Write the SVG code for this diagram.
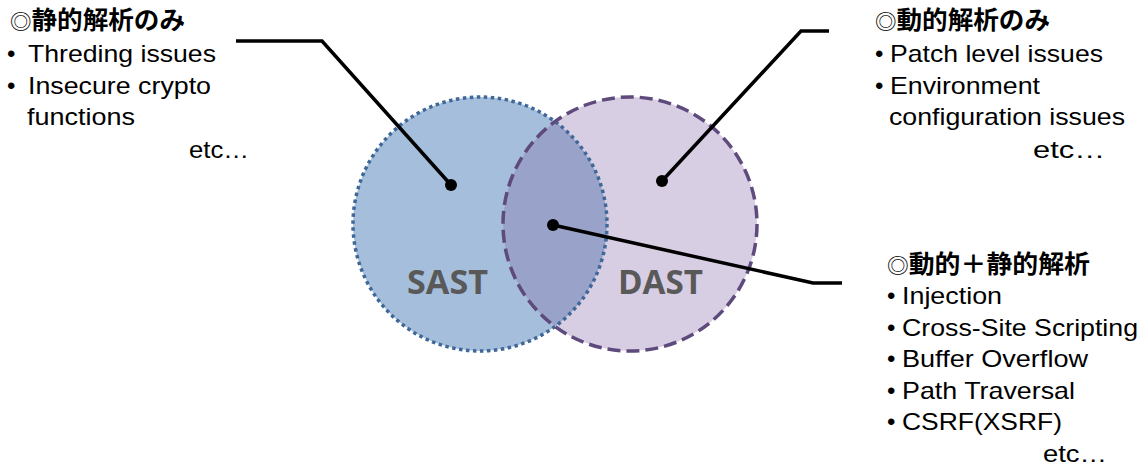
<svg xmlns="http://www.w3.org/2000/svg" width="1144" height="468" viewBox="0 0 1144 468">
<style>
.h{font-family:"Noto Sans CJK JP","Noto Sans CJK SC",sans-serif;font-weight:bold;font-size:25px;fill:#000}
.h .m{font-weight:normal;font-size:21px}
.t{font-family:"Liberation Sans",Arial,sans-serif;font-size:24px;fill:#000}
.lbl{font-family:"Open Sans","Noto Sans",sans-serif;font-weight:bold;font-size:34px;fill:#595959}
.con{fill:none;stroke:#000;stroke-width:3.5;stroke-linejoin:miter}
.dot{fill:#000}
</style>
<defs>
<clipPath id="clipSast"><circle cx="480" cy="224" r="127"/></clipPath>
</defs>
<g id="sast">
<circle cx="480" cy="224" r="127" fill="#A5BEDB"/>
</g>
<g id="dast">
<circle cx="630" cy="224" r="127" fill="#D8CEE3"/>
</g>
<g id="overlap">
<circle cx="630" cy="224" r="127" fill="#99A3C9" clip-path="url(#clipSast)"/>
</g>
<g id="borders">
<circle cx="480" cy="224" r="127" fill="none" stroke="#3F6898" stroke-width="3.5" stroke-dasharray="3.5 3.5"/>
<circle cx="630" cy="224" r="127" fill="none" stroke="#5E4A7C" stroke-width="3.5" stroke-dasharray="13 6"/>
</g>
<g id="labels">
<text class="lbl" x="407" y="294" textLength="81" lengthAdjust="spacingAndGlyphs">SAST</text>
<text class="lbl" x="618" y="294" textLength="85" lengthAdjust="spacingAndGlyphs">DAST</text>
</g>
<g id="connectors">
<polyline class="con" points="236,41 322,41 451,185"/>
<polyline class="con" points="662,181 801,31 829,31"/>
<polyline class="con" points="553,225 813,283 842,283"/>
<circle class="dot" cx="451" cy="185" r="6"/>
<circle class="dot" cx="662" cy="181" r="6"/>
<circle class="dot" cx="553" cy="225" r="6"/>
</g>
<g id="static-only">
<text class="h" x="10" y="29" textLength="175" lengthAdjust="spacingAndGlyphs"><tspan class="m">◎</tspan>静的解析のみ</text>
<text class="t" x="7" y="62">•</text>
<text class="t" x="28" y="62" textLength="188" lengthAdjust="spacingAndGlyphs">Threding issues</text>
<text class="t" x="7" y="94">•</text>
<text class="t" x="28" y="94" textLength="183" lengthAdjust="spacingAndGlyphs">Insecure crypto</text>
<text class="t" x="27" y="125" textLength="108" lengthAdjust="spacingAndGlyphs">functions</text>
<text class="t" x="189" y="158" textLength="60" lengthAdjust="spacingAndGlyphs">etc…</text>
</g>
<g id="dynamic-only">
<text class="h" x="875" y="29" textLength="175" lengthAdjust="spacingAndGlyphs"><tspan class="m">◎</tspan>動的解析のみ</text>
<text class="t" x="875" y="62">•</text>
<text class="t" x="890" y="62" textLength="213" lengthAdjust="spacingAndGlyphs">Patch level issues</text>
<text class="t" x="875" y="94">•</text>
<text class="t" x="890" y="94" textLength="150" lengthAdjust="spacingAndGlyphs">Environment</text>
<text class="t" x="889" y="125" textLength="236" lengthAdjust="spacingAndGlyphs">configuration issues</text>
<text class="t" x="1033" y="158" textLength="72" lengthAdjust="spacingAndGlyphs">etc…</text>
</g>
<g id="both">
<text class="h" x="887" y="273" textLength="203" lengthAdjust="spacingAndGlyphs"><tspan class="m">◎</tspan>動的＋静的解析</text>
<text class="t" x="887" y="304">•</text>
<text class="t" x="902" y="304" textLength="100" lengthAdjust="spacingAndGlyphs">Injection</text>
<text class="t" x="887" y="336">•</text>
<text class="t" x="902" y="336" textLength="236" lengthAdjust="spacingAndGlyphs">Cross-Site Scripting</text>
<text class="t" x="887" y="367">•</text>
<text class="t" x="902" y="367" textLength="186" lengthAdjust="spacingAndGlyphs">Buffer Overflow</text>
<text class="t" x="887" y="399">•</text>
<text class="t" x="902" y="399" textLength="173" lengthAdjust="spacingAndGlyphs">Path Traversal</text>
<text class="t" x="887" y="430">•</text>
<text class="t" x="902" y="430" textLength="160" lengthAdjust="spacingAndGlyphs">CSRF(XSRF)</text>
<text class="t" x="1043" y="462" textLength="64" lengthAdjust="spacingAndGlyphs">etc…</text>
</g>
</svg>
